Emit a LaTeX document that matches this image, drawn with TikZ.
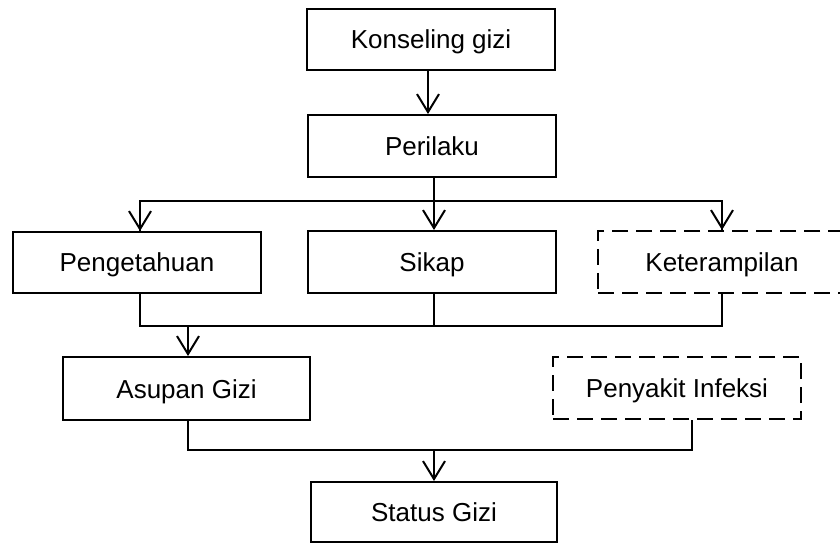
\documentclass[tikz,border=0pt]{standalone}
\usepackage{fontspec}
\setmainfont{Liberation Sans}
\usetikzlibrary{arrows.meta}
\tikzset{
  box/.style={draw=black, line width=2pt, rectangle, minimum width=248pt, minimum height=61pt,
    inner sep=0pt, text height=19pt, text depth=0pt, font=\fontsize{26}{30}\selectfont},
  dbox/.style={box, dash pattern=on 16pt off 8pt},
  conn/.style={line width=2pt, draw=black},
  arr/.style={conn, -{Straight Barb[length=18pt,width=22pt,line width=2pt]}}
}
\begin{document}
\begin{tikzpicture}[x=1pt,y=-1pt]
\clip (0,0) rectangle (840,545);
\fill[white] (0,0) rectangle (840,545);
\node[box] (kon) at (431,39.5) {Konseling gizi};
\node[box, minimum height=62pt] (per) at (432,146) {Perilaku};
\node[box] (pen) at (137,262.5) {Pengetahuan};
\node[box, minimum height=62pt] (sik) at (432,262) {Sikap};
\node[dbox, minimum height=62pt] (ket) at (722,262) {Keterampilan};
\node[box, minimum height=63pt, minimum width=247pt] (asu) at (186.5,388.5) {Asupan Gizi};
\node[dbox, minimum height=62pt] (pny) at (677,388) {Penyakit Infeksi};
\node[box, minimum width=246pt, minimum height=60pt] (sta) at (434,512) {Status Gizi};
% level 1
\coordinate (ax) at (428,0);
\draw[arr] (kon.south -| ax) -- (per.north -| ax);
% level 2
\coordinate (j1) at (434,201);
\draw[conn] (per.south -| j1) -- (j1);
\draw[conn] (j1) -| ([xshift=3pt]pen.north);
\draw[conn] (j1) -| (ket.north);
\draw[arr] (j1) -| ([xshift=3pt]pen.north);
\draw[arr] (j1) -- (sik.north -| j1);
\draw[arr] (j1) -| (ket.north);
% level 3
\coordinate (j2) at (188,326);
\draw[conn] ([xshift=3pt]pen.south) |- (j2);
\draw[conn] (sik.south -| j1) -- (j1 |- j2);
\draw[conn] (ket.south) |- (j2);
\draw[arr] (j2) -- (asu.north -| j2);
% level 4
\coordinate (j3) at (434,450);
\draw[conn] (asu.south -| j2) |- (j3);
\draw[conn] ([xshift=15pt]pny.south) |- (j3);
\draw[arr] (j3) -- (sta.north -| j3);
\end{tikzpicture}
\end{document}
